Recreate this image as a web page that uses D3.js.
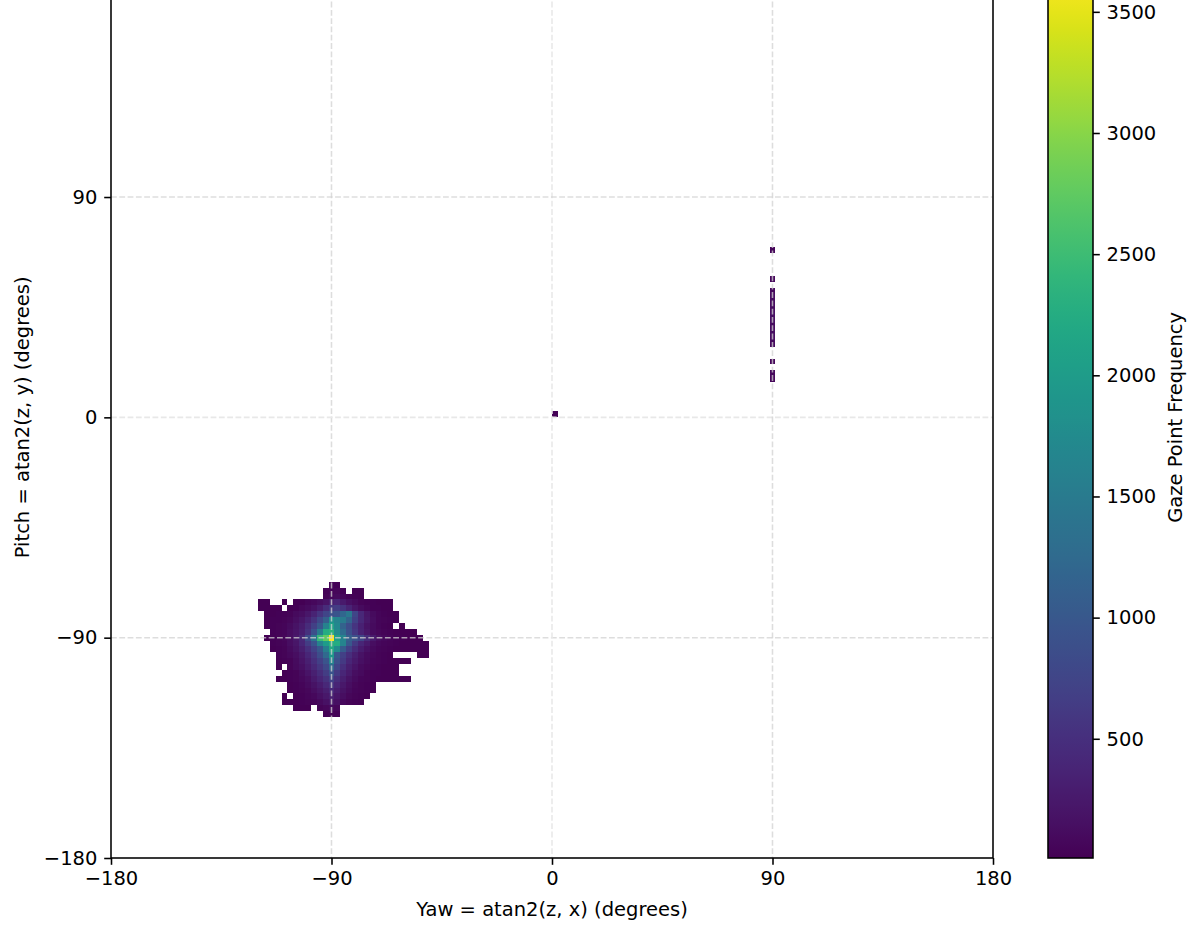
<!DOCTYPE html>
<html>
<head>
<meta charset="utf-8">
<script src="https://cdn.jsdelivr.net/npm/d3@7"></script>
<style>
  body { margin: 0; background: #fff; }
  svg { display: block; font-family: "DejaVu Sans", sans-serif; }
</style>
</head>
<body>
<div id="chart"></div>
<script>
// Datos: histograma 2D de la mirada (bins de 2.4 grados)
const binSize = 2.4;

// Nube principal alrededor de (-90, -90): filas de arriba hacia abajo
const clusterYawStart = -120;   // borde izquierdo de la primera columna
const clusterPitchTop = -67.2;  // borde superior de la primera fila
const clusterCounts = [
  [0,0,0,0,0,0,0,0,0,0,0,0,40,25,0,0,0,0,0,0,0,0,0,0,0,0,0,0,0],
  [0,0,0,0,0,0,0,0,0,0,0,30,60,70,35,0,20,15,0,0,0,0,0,0,0,0,0,0,0],
  [0,0,0,0,0,0,0,0,0,0,0,45,90,120,85,50,30,20,0,0,0,0,0,0,0,0,0,0,0],
  [15,12,0,0,10,0,15,20,60,90,140,200,330,380,260,160,100,50,35,25,18,12,10,0,0,0,0,0,0],
  [12,18,20,15,0,20,25,70,110,170,280,450,620,650,520,350,200,120,55,35,25,15,10,0,0,0,0,0,0],
  [0,15,22,30,35,45,100,150,230,350,550,750,900,950,1200,1450,750,420,220,120,55,35,20,12,0,0,0,0,0],
  [0,18,25,35,45,65,140,220,340,520,800,1100,1850,1650,1500,1150,700,420,240,130,60,40,25,15,0,0,0,0,0],
  [0,20,28,40,55,120,180,280,450,700,1000,1600,2100,1700,1150,850,550,340,190,110,55,35,20,0,10,0,0,0,0],
  [0,0,25,40,60,130,200,320,520,900,1500,2250,2350,1750,1300,900,600,360,210,120,65,45,30,22,15,12,10,0,0],
  [0,20,30,45,65,150,240,420,850,1400,2450,2750,3645,2050,1650,1100,900,750,450,260,150,80,55,35,25,18,14,10,0],
  [0,0,25,40,60,140,220,400,650,950,1600,2000,2300,2250,1650,1000,620,400,250,150,85,55,40,28,20,15,12,10,9],
  [0,0,15,30,45,110,180,320,500,720,1000,1550,2200,1750,1050,700,450,280,170,100,60,40,28,20,15,12,10,9,8],
  [0,0,0,25,40,90,140,240,400,580,850,1250,1950,1000,700,480,310,190,120,65,45,30,20,0,0,0,0,10,8],
  [0,0,0,20,35,50,120,200,330,500,700,950,1650,900,620,400,260,160,100,55,38,26,18,14,11,9,0,0,0],
  [0,0,0,15,0,40,100,160,270,420,580,800,1250,750,500,320,200,120,65,42,30,20,14,10,0,0,0,0,0],
  [0,0,0,0,20,32,50,120,200,330,470,650,950,620,400,250,150,95,50,35,24,16,12,9,0,0,0,0,0],
  [0,0,0,12,18,28,42,90,150,250,380,520,720,480,310,190,115,60,40,28,20,14,11,9,10,9,0,0,0],
  [0,0,0,0,0,22,35,55,110,190,290,420,560,380,240,150,75,48,30,18,0,0,0,0,0,0,0,0,0],
  [0,0,0,0,0,18,28,45,70,140,220,320,440,300,190,115,60,38,24,14,0,0,0,0,0,0,0,0,0],
  [0,0,0,0,12,0,22,35,55,85,160,240,330,220,140,75,45,28,16,0,0,0,0,0,0,0,0,0,0],
  [0,0,0,0,10,14,18,26,40,60,95,170,240,160,85,50,30,18,0,0,0,0,0,0,0,0,0,0,0],
  [0,0,0,0,0,0,12,16,22,0,45,75,110,70,0,0,0,0,0,0,0,0,0,0,0,0,0,0,0],
  [0,0,0,0,0,0,0,0,0,0,0,30,45,25,0,0,0,0,0,0,0,0,0,0,0,0,0,0,0],
];

// Franja vertical en yaw = 90
const stripYaw = 88.8;
const stripPitch = [14.4, 16.8, 21.6, 28.8, 31.2, 33.6, 36.0, 38.4, 40.8, 43.2, 45.6, 48.0, 50.4, 55.2, 67.2];
const stripCounts = [70, 90, 60, 110, 130, 150, 120, 140, 160, 130, 110, 140, 100, 80, 60];

// Punto aislado en el origen
const dotYaw = 0;
const dotPitch = 0;
const dotCount = 25;

const axisTicks = [-180, -90, 0, 90, 180];
const colorbarTicks = [500, 1000, 1500, 2000, 2500, 3000, 3500];

// Construccion de las celdas
const cells = [];
clusterCounts.forEach((row, m) => {
  row.forEach((count, i) => {
    if (count > 0) {
      cells.push({
        yaw: clusterYawStart + i * binSize,
        pitch: clusterPitchTop - (m + 1) * binSize,
        count: count,
      });
    }
  });
});
stripPitch.forEach((p, i) => cells.push({ yaw: stripYaw, pitch: p, count: stripCounts[i] }));
cells.push({ yaw: dotYaw, pitch: dotPitch, count: dotCount });

// Dimensiones
const width = 1200;
const height = 935;
const plot = { left: 111, right: 993, top: -23.3, bottom: 858 };
const cbar = { left: 1048, right: 1093 };
const fontSize = 19.5;
const tickLen = 6.8;
const lineW = 1.56;

const svg = d3
  .select("div#chart")
  .append("svg")
  .attr("width", width)
  .attr("height", height);

// Escalas
const x = d3.scaleLinear().domain([-180, 180]).range([plot.left, plot.right]);
const y = d3.scaleLinear().domain([-180, 180]).range([plot.bottom, plot.top]);
const extent = d3.extent(cells, (d) => d.count);
const color = d3.scaleSequential(d3.interpolateViridis).domain(extent);

// Celdas del histograma
svg
  .append("g")
  .selectAll("rect")
  .data(cells)
  .join("rect")
  .attr("x", (d) => x(d.yaw))
  .attr("y", (d) => y(d.pitch + binSize))
  .attr("width", (d) => x(d.yaw + binSize) - x(d.yaw))
  .attr("height", (d) => y(d.pitch) - y(d.pitch + binSize))
  .attr("fill", (d) => color(d.count))
  .attr("shape-rendering", "crispEdges");

// Rejilla discontinua (las de +-90 se ven mas oscuras por superposicion)
const gridGroup = svg.append("g");
const inner = axisTicks.filter((t) => t > -180 && t < 180);
inner.forEach((t) => {
  const strong = t !== 0;
  const stroke = strong ? "#d2d2d2" : "#e8e8e8";
  const op = strong ? 0.75 : 1;
  gridGroup
    .append("line")
    .attr("x1", x(t)).attr("x2", x(t))
    .attr("y1", plot.top).attr("y2", plot.bottom)
    .attr("stroke", stroke).attr("stroke-opacity", op)
    .attr("stroke-width", lineW).attr("stroke-dasharray", "5.8,2.5");
  gridGroup
    .append("line")
    .attr("x1", plot.left).attr("x2", plot.right)
    .attr("y1", y(t)).attr("y2", y(t))
    .attr("stroke", stroke).attr("stroke-opacity", op)
    .attr("stroke-width", lineW).attr("stroke-dasharray", "5.8,2.5");
});

// Ejes
const xAxis = d3.axisBottom(x).tickValues(axisTicks).tickSize(tickLen).tickPadding(tickLen);
const yAxis = d3.axisLeft(y).tickValues(axisTicks.slice(0, 4)).tickSize(tickLen).tickPadding(tickLen);

const xAxisGroup = svg
  .append("g")
  .attr("transform", `translate(0, ${plot.bottom})`)
  .call(xAxis);
const yAxisGroup = svg
  .append("g")
  .attr("transform", `translate(${plot.left}, 0)`)
  .call(yAxis);

[xAxisGroup, yAxisGroup].forEach((g) => {
  g.select(".domain").remove();
  g.attr("font-size", fontSize).attr("font-family", "DejaVu Sans");
  g.selectAll("line").attr("stroke", "#000").attr("stroke-width", lineW);
  g.selectAll("text").attr("fill", "#000");
});

// Marco del grafico
svg
  .append("rect")
  .attr("x", plot.left)
  .attr("y", plot.top)
  .attr("width", plot.right - plot.left)
  .attr("height", plot.bottom - plot.top)
  .attr("fill", "none")
  .attr("stroke", "#000")
  .attr("stroke-width", lineW);

// Titulos de los ejes
svg
  .append("text")
  .attr("x", (plot.left + plot.right) / 2)
  .attr("y", 916)
  .attr("text-anchor", "middle")
  .attr("font-size", fontSize)
  .text("Yaw = atan2(z, x) (degrees)");

svg
  .append("text")
  .attr("transform", `translate(29, ${(plot.top + plot.bottom) / 2}) rotate(-90)`)
  .attr("text-anchor", "middle")
  .attr("font-size", fontSize)
  .text("Pitch = atan2(z, y) (degrees)");

// Barra de color
const defs = svg.append("defs");
const grad = defs
  .append("linearGradient")
  .attr("id", "viridis")
  .attr("x1", 0).attr("y1", 1)
  .attr("x2", 0).attr("y2", 0);
d3.range(0, 1.0001, 0.02).forEach((t) => {
  grad.append("stop").attr("offset", t).attr("stop-color", d3.interpolateViridis(t));
});

svg
  .append("rect")
  .attr("x", cbar.left)
  .attr("y", plot.top)
  .attr("width", cbar.right - cbar.left)
  .attr("height", plot.bottom - plot.top)
  .attr("fill", "url(#viridis)")
  .attr("stroke", "#000")
  .attr("stroke-width", lineW);

const cbY = d3.scaleLinear().domain(extent).range([plot.bottom, plot.top]);
const cbAxis = d3
  .axisRight(cbY)
  .tickValues(colorbarTicks)
  .tickFormat(d3.format("d"))
  .tickSize(tickLen)
  .tickPadding(tickLen);
const cbGroup = svg
  .append("g")
  .attr("transform", `translate(${cbar.right}, 0)`)
  .call(cbAxis);
cbGroup.select(".domain").remove();
cbGroup.attr("font-size", fontSize).attr("font-family", "DejaVu Sans");
cbGroup.selectAll("line").attr("stroke", "#000").attr("stroke-width", lineW);
cbGroup.selectAll("text").attr("fill", "#000");

svg
  .append("text")
  .attr("transform", `translate(1182, ${(plot.top + plot.bottom) / 2}) rotate(-90)`)
  .attr("text-anchor", "middle")
  .attr("font-size", fontSize)
  .text("Gaze Point Frequency");
</script>
</body>
</html>
